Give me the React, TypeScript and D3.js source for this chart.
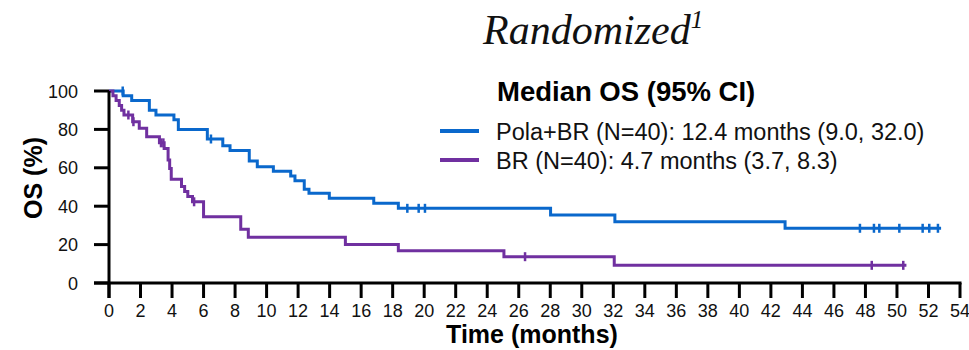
import React from "react";
import * as d3 from "d3";

// ---- Data ----
const polaTimes = [0, 0.9, 1.44, 2.56, 2.98, 4.12, 4.4, 6.24, 7.22, 7.68, 8.9, 9.41, 10.43, 11.53, 11.8, 12.39, 12.69, 13.98, 16.8, 18.36, 28.02, 32.1, 42.9, 52.8];
const polaSurv = [100, 97.5, 95, 90, 87.5, 85, 80, 75, 71.5, 69, 63.5, 60.5, 58.2, 55.7, 53.2, 48.8, 46.7, 44.1, 41.5, 38.9, 35.4, 31.9, 28.5, 28.5];
const polaCensor = [0.87, 6.47, 18.93, 19.65, 20.05, 47.65, 48.54, 48.88, 50.15, 51.63, 52.05, 52.6];

const brTimes = [0, 0.25, 0.45, 0.65, 0.8, 0.95, 1.5, 1.92, 2.39, 3.2, 3.5, 3.75, 3.85, 3.95, 4.6, 4.8, 5.0, 5.3, 6.0, 8.36, 8.84, 15.0, 18.36, 25.06, 32.06, 50.6];
const brSurv = [100, 97.5, 95, 92.5, 90, 87.5, 84, 80.6, 76.2, 73, 70, 64, 59.7, 54, 50.2, 47.6, 45, 42.3, 34.5, 28, 23.8, 20.1, 16.8, 13.7, 9.2, 9.2];
const brCensor = [1.23, 1.55, 3.3, 3.45, 5.4, 26.4, 48.4, 50.4];

const xTicks = [0, 2, 4, 6, 8, 10, 12, 14, 16, 18, 20, 22, 24, 26, 28, 30, 32, 34, 36, 38, 40, 42, 44, 46, 48, 50, 52, 54];
const yTicks = [0, 20, 40, 60, 80, 100];

const seriesNames = ["Pola+BR (N=40): 12.4 months (9.0, 32.0)", "BR (N=40): 4.7 months (3.7, 8.3)"];
const legendTitle = "Median OS (95% CI)";
const xLabel = "Time (months)";
const yLabel = "OS (%)";

const BLUE = "#0A68CC";
const PURPLE = "#7030A0";
const SANS = "'Liberation Sans', Arial, sans-serif";

function survAt(times: number[], surv: number[], t: number) {
  let s = surv[0];
  for (let i = 0; i < times.length; i++) {
    if (times[i] <= t) s = surv[i];
  }
  return s;
}

export default function App() {
  const W = 969;
  const H = 350;
  const x = d3.scaleLinear().domain([0, 54]).range([109, 960]);
  const y = d3.scaleLinear().domain([0, 100]).range([283, 91]);

  const line = d3
    .line<[number, number]>()
    .x((d) => x(d[0]))
    .y((d) => y(d[1]))
    .curve(d3.curveStepAfter);

  const series = [
    { times: polaTimes, surv: polaSurv, censor: polaCensor, color: BLUE },
    { times: brTimes, surv: brSurv, censor: brCensor, color: PURPLE },
  ];

  const tickLen = 15;
  const axisW = 3;

  return (
    <svg
      width={W}
      height={H}
      style={{ position: "absolute", left: 0, top: 0, background: "#fff" }}
    >
      <rect x={0} y={0} width={W} height={H} fill="#fff" />
      {/* Title */}
      <text x={483} y={44} fontFamily="'Liberation Serif', 'Times New Roman', serif" fontStyle="italic" fontSize={42} fill="#111">
        Randomized
        <tspan fontSize={25} dy={-16}>1</tspan>
      </text>

      {/* Curves */}
      {series.map((s, i) => (
        <g key={i}>
          <path
            d={line(s.times.map((t, j) => [t, s.surv[j]] as [number, number])) || ""}
            fill="none"
            stroke={s.color}
            strokeWidth={3}
          />
          {s.censor.map((c, k) => {
            const cy = y(survAt(s.times, s.surv, c));
            return (
              <line key={k} x1={x(c)} x2={x(c)} y1={cy - 4.5} y2={cy + 4.5} stroke={s.color} strokeWidth={2.5} />
            );
          })}
        </g>
      ))}

      {/* Axes */}
      <g stroke="#000" strokeWidth={axisW}>
        <line x1={x(0)} x2={x(0)} y1={y(100)} y2={y(0) + tickLen} />
        <line x1={x(0) - tickLen} x2={x(54) + 1.5} y1={y(0)} y2={y(0)} />
        {xTicks.map((t) => (
          <line key={"xt" + t} x1={x(t)} x2={x(t)} y1={y(0)} y2={y(0) + tickLen} />
        ))}
        {yTicks.map((t) => (
          <line key={"yt" + t} x1={x(0) - tickLen} x2={x(0)} y1={y(t)} y2={y(t)} />
        ))}
      </g>
      <g fontFamily={SANS} fontSize={18} fill="#111">
        {xTicks.map((t) => (
          <text key={"xl" + t} x={x(t)} y={317} textAnchor="middle">
            {t}
          </text>
        ))}
        {yTicks.map((t) => (
          <text key={"yl" + t} x={78} y={y(t) + 6.5} textAnchor="end">
            {t}
          </text>
        ))}
      </g>
      <text x={532} y={343} textAnchor="middle" fontFamily={SANS} fontWeight="bold" fontSize={25} fill="#000">
        {xLabel}
      </text>
      <text
        transform={`translate(42, 178) rotate(-90)`}
        textAnchor="middle"
        fontFamily={SANS}
        fontWeight="bold"
        fontSize={25}
        fill="#000"
      >
        {yLabel}
      </text>

      {/* Legend */}
      <text x={497} y={101} fontFamily={SANS} fontWeight="bold" fontSize={27.5} fill="#000">
        {legendTitle}
      </text>
      {seriesNames.map((n, i) => (
        <g key={n}>
          <line x1={440} x2={479} y1={131 + i * 29} y2={131 + i * 29} stroke={series[i].color} strokeWidth={4} />
          <text x={496} y={139.5 + i * 29} fontFamily={SANS} fontSize={23.5} fill="#111">
            {n}
          </text>
        </g>
      ))}
    </svg>
  );
}
